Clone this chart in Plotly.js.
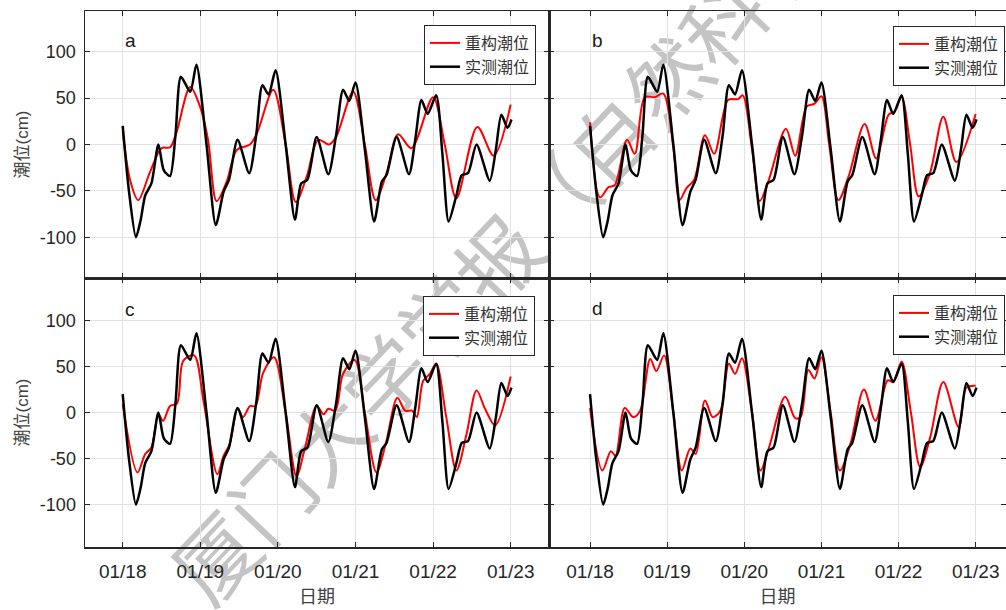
<!DOCTYPE html>
<html>
<head>
<meta charset="utf-8">
<script src="https://cdn.plot.ly/plotly-3.0.1.min.js"></script>
<style>
  html, body { margin:0; padding:0; background:#ffffff; }
  #wrap { position:relative; width:1006px; height:610px; }
  #wm { position:absolute; left:0; top:0; z-index:0; }
  #chart { position:absolute; left:0; top:0; width:1006px; height:610px; z-index:1; }
</style>
</head>
<body>
<div id="wrap">
  <svg id="wm" width="1006" height="610"></svg>
  <div id="chart"></div>
</div>
<script>
// ---------------- data (days of January; tide level in cm) ----------------
const dayTicks  = [18, 19, 20, 21, 22, 23];
const dayLabels = ['01/18', '01/19', '01/20', '01/21', '01/22', '01/23'];
const levelTicks  = [-100, -50, 0, 50, 100];
const levelLabels = ['-100', '-50', '0', '50', '100'];
const panelLabels = ['a', 'b', 'c', 'd'];
const seriesNames = ['重构潮位', '实测潮位'];
const watermarkText = '厦门大学学报（自然科学版）';

// measured tide (实测潮位) – identical in all four panels
const tObs = [18.00, 18.08, 18.17, 18.23, 18.29, 18.37, 18.46, 18.53, 18.61, 18.68, 18.75, 18.87, 18.95, 19.08, 19.20,
              19.30, 19.37, 19.48, 19.63, 19.72, 19.80, 19.88, 19.97, 20.10, 20.22,
              20.30, 20.38, 20.50, 20.65, 20.75, 20.84, 20.92, 21.00, 21.12, 21.24,
              21.34, 21.40, 21.53, 21.69, 21.77, 21.85, 21.93, 22.04, 22.12, 22.20,
              22.30, 22.37, 22.45, 22.56, 22.73, 22.81, 22.88, 22.96, 23.01];
const obs  = [20, -50, -100, -82, -55, -42, 0, -28, -34, 10, 73, 57, 86, 0, -87,
              -51, -38, 5, -31, 10, 64, 54, 80, 0, -81,
              -42, -38, 8, -32, 10, 59, 47, 67, -5, -83,
              -40, -33, 8, -32, 5, 48, 33, 53, -10, -83,
              -55, -33, -31, 0, -39, -5, 32, 18, 27];

// reconstructed tide (重构潮位) – panel a
const tRecA = [18.00, 18.10, 18.20, 18.35, 18.50, 18.61, 18.69, 18.87, 19.00, 19.10, 19.21, 19.34, 19.47, 19.64, 19.73,
               19.94, 20.10, 20.23, 20.37, 20.52, 20.66, 20.75, 20.97, 21.12, 21.26, 21.40, 21.55, 21.72, 22.00,
               22.15, 22.30, 22.57, 22.78, 23.00];
const recA  = [14, -40, -60, -30, -4, -3, 12, 62, 40, 5, -61, -40, -6, 0, 12,
               59, 0, -62, -35, 5, 0, 8, 57, 0, -60, -31, 11, -4, 51,
               0, -58, 19, -12, 43];

// panel b
const tRecB = [18.00, 18.13, 18.24, 18.32, 18.48, 18.58, 18.71, 18.84, 18.95, 19.08, 19.16, 19.25, 19.35, 19.49, 19.61,
               19.79, 19.92, 19.98, 20.10, 20.20, 20.31, 20.54, 20.66, 20.81, 20.91, 21.00, 21.10, 21.22, 21.35,
               21.56, 21.71, 21.87, 21.95, 22.04, 22.15, 22.26, 22.41, 22.58, 22.75, 23.00];
const recB  = [24, -57, -46, -44, 5, -10, 51, 51, 55, -3, -60, -47, -38, 10, -10,
               48, 49, 53, -5, -61, -40, 17, -12, 41, 44, 52, 0, -60, -35,
               22, -15, 32, 36, 51, 0, -56, -30, 30, -19, 33];

// panel c
const tRecC = [18.00, 18.19, 18.29, 18.37, 18.46, 18.52, 18.61, 18.70, 18.78, 18.92, 19.04, 19.22, 19.30, 19.38, 19.48,
               19.55, 19.64, 19.71, 19.81, 19.95, 20.10, 20.24, 20.35, 20.50, 20.59, 20.65, 20.74, 20.84, 20.99,
               21.12, 21.27, 21.39, 21.54, 21.64, 21.73, 21.79, 21.87, 21.96, 22.04, 22.17, 22.30, 22.43, 22.56,
               22.67, 22.80, 23.00];
const recC  = [9, -65, -45, -38, -2, -9, 7, 10, 56, 62, 13, -67, -47, -34, 4,
               -5, 7, 7, 43, 60, 0, -69, -38, 7, -2, 4, 2, 42, 57,
               0, -65, -34, 16, 2, 2, -5, 34, 42, 53, -5, -63, -24, 24,
               4, -14, 39];

// panel d
const tRecD = [18.00, 18.16, 18.27, 18.33, 18.45, 18.56, 18.65, 18.78, 18.86, 18.96, 19.08, 19.19, 19.30, 19.37, 19.49,
               19.59, 19.69, 19.80, 19.88, 19.97, 20.10, 20.21, 20.32, 20.53, 20.66, 20.73, 20.83, 20.91, 21.00,
               21.12, 21.24, 21.38, 21.55, 21.70, 21.86, 21.93, 22.04, 22.16, 22.28, 22.41, 22.58, 22.78, 22.88, 23.00];
const recD  = [5, -63, -42, -47, 5, -5, 2, 58, 45, 62, 0, -63, -39, -45, 13,
               -5, 2, 53, 42, 59, 0, -63, -38, 17, -6, -5, 46, 37, 60,
               0, -63, -33, 25, -9, 35, 33, 55, 0, -59, -27, 33, -16, 27, 29];

const recTimes  = [tRecA, tRecB, tRecC, tRecD];
const recValues = [recA, recB, recC, recD];

// ---------------- figure ----------------
const axisSuffix = ['', '2', '3', '4'];
const legendIds  = ['legend', 'legend2', 'legend3', 'legend4'];
const traces = [];
for (let p = 0; p < 4; p++) {
  const s = axisSuffix[p];
  traces.push({
    x: recTimes[p], y: recValues[p], type: 'scatter', mode: 'lines',
    name: seriesNames[0], xaxis: 'x' + s, yaxis: 'y' + s, legend: legendIds[p],
    line: { color: '#ff0000', width: 2, shape: 'spline', smoothing: 0.9 },
    hoverinfo: 'skip'
  });
  traces.push({
    x: tObs, y: obs, type: 'scatter', mode: 'lines',
    name: seriesNames[1], xaxis: 'x' + s, yaxis: 'y' + s, legend: legendIds[p],
    line: { color: '#000000', width: 2.5, shape: 'spline', smoothing: 0.7 },
    hoverinfo: 'skip'
  });
}

const W = 1006, H = 610, mL = 85, mR = 0, mT = 11, mB = 63;
const pw = W - mL - mR, ph = H - mT - mB;
const xSplit = (549 - mL) / pw;
const ySplit = (547 - 278) / ph;

const tickFont = { family: 'Liberation Sans, Arial, sans-serif', size: 18, color: '#262626' };
function xAxis(domain, range, labels, anchor) {
  return {
    domain: domain, range: range, anchor: anchor,
    tickmode: 'array', tickvals: dayTicks, ticktext: dayLabels,
    showticklabels: labels, tickfont: { family: 'Liberation Sans, Arial, sans-serif', size: 19, color: '#262626' },
    ticklabelstandoff: 7,
    ticks: 'inside', ticklen: 5, tickcolor: '#262626', tickwidth: 1,
    mirror: 'allticks', showline: true, linecolor: '#262626', linewidth: 1.5,
    showgrid: true, gridcolor: '#e2e2e2', gridwidth: 1, zeroline: false, fixedrange: true,
    title: labels ? { text: '日期', font: { family: 'Noto Sans CJK SC, sans-serif', size: 18, color: '#404040' }, standoff: 5 } : { text: '' }
  };
}
function yAxis(domain, range, labels, anchor) {
  return {
    domain: domain, range: range, anchor: anchor,
    tickmode: 'array', tickvals: levelTicks, ticktext: levelLabels,
    showticklabels: labels, tickfont: tickFont, ticklabelstandoff: 4,
    ticks: 'inside', ticklen: 5, tickcolor: '#262626', tickwidth: 1,
    mirror: 'allticks', showline: true, linecolor: '#262626', linewidth: 1.5,
    showgrid: true, gridcolor: '#e2e2e2', gridwidth: 1, zeroline: false, fixedrange: true,
    title: labels ? { text: '潮位(cm)', font: { family: 'Liberation Sans, Noto Sans CJK SC, sans-serif', size: 17, color: '#404040' }, standoff: 7 } : { text: '' }
  };
}

const leftRange  = [17.514, 23.494];
const rightRange = [17.468, 23.393];
const upRange = [-144, 144];
const lowRange = [-146, 146];

const legendStyle = (x, y) => ({
  x: x, y: y, xref: 'paper', yref: 'paper', xanchor: 'right', yanchor: 'top',
  bgcolor: '#ffffff', bordercolor: '#262626', borderwidth: 1,
  font: { family: 'Noto Sans CJK SC, sans-serif', size: 16, color: '#333333' },
  tracegroupgap: 0, itemwidth: 30
});
const px2x = px => (px - mL) / pw;
const py2y = py => (H - mB - py) / ph;

const annFont = { family: 'Liberation Sans, Arial, sans-serif', size: 19, color: '#1a1a1a' };
const annPos = [[112, 'x', 'y'], [112, 'x2', 'y2'], [112, 'x3', 'y3'], [113, 'x4', 'y4']];
const annotations = panelLabels.map((lab, i) => ({
  text: lab, x: dayTicks[0], y: annPos[i][0], xref: annPos[i][1], yref: annPos[i][2],
  xanchor: 'left', yanchor: 'middle', showarrow: false, font: annFont
}));

const layout = {
  width: W, height: H, autosize: false,
  margin: { l: mL, r: mR, t: mT, b: mB, pad: 0 },
  paper_bgcolor: 'rgba(0,0,0,0)', plot_bgcolor: 'rgba(0,0,0,0)',
  showlegend: true,
  xaxis:  xAxis([0, xSplit], leftRange, false, 'y'),
  yaxis:  yAxis([ySplit, 1], upRange, true, 'x'),
  xaxis2: xAxis([xSplit, 1], rightRange, false, 'y2'),
  yaxis2: yAxis([ySplit, 1], upRange, false, 'x2'),
  xaxis3: xAxis([0, xSplit], leftRange, true, 'y3'),
  yaxis3: yAxis([0, ySplit], lowRange, true, 'x3'),
  xaxis4: xAxis([xSplit, 1], rightRange, true, 'y4'),
  yaxis4: yAxis([0, ySplit], lowRange, false, 'x4'),
  legend:  legendStyle(px2x(536), py2y(25)),
  legend2: legendStyle(px2x(1005), py2y(26)),
  legend3: legendStyle(px2x(535), py2y(296)),
  legend4: legendStyle(px2x(1005), py2y(295)),
  annotations: annotations
};

Plotly.newPlot('chart', traces, layout, { displayModeBar: false, staticPlot: true });

// ---------------- watermark (behind the plot) ----------------
(function () {
  const svg = document.getElementById('wm');
  const ns = 'http://www.w3.org/2000/svg';
  const fs = 82, ang = -46.5;
  const rad = ang * Math.PI / 180;
  const cx0 = 213, cy0 = 555; // centre of first glyph
  const sx = cx0 - Math.cos(rad) * fs / 2, sy = cy0 - Math.sin(rad) * fs / 2;
  const t = document.createElementNS(ns, 'text');
  t.setAttribute('x', sx);
  t.setAttribute('y', sy);
  t.setAttribute('transform', 'rotate(' + ang + ' ' + sx + ' ' + sy + ')');
  t.setAttribute('dominant-baseline', 'central');
  t.setAttribute('font-family', 'Noto Sans CJK SC, sans-serif');
  t.setAttribute('font-size', fs);
  t.setAttribute('fill', '#c4c4c4');
  t.textContent = watermarkText;
  svg.appendChild(t);
})();
</script>
</body>
</html>
